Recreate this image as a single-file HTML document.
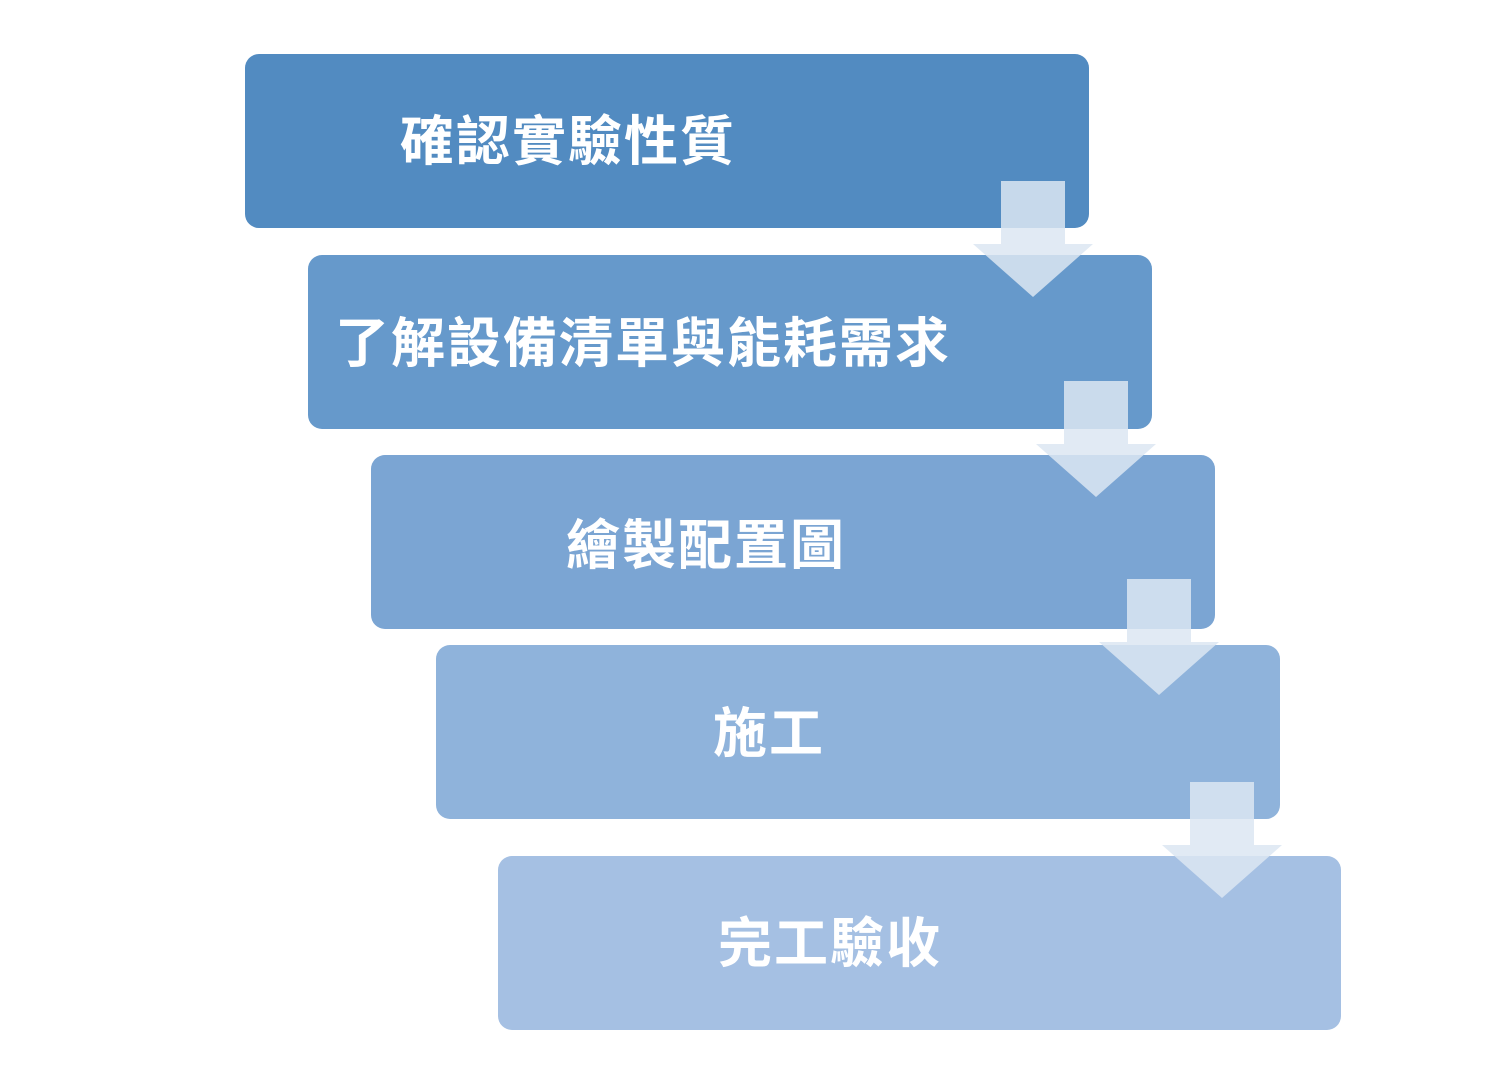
<!DOCTYPE html>
<html><head><meta charset="utf-8"><style>
body{margin:0;width:1488px;height:1080px;background:#fff;position:relative;overflow:hidden;font-family:"Liberation Sans","Noto Sans CJK TC",sans-serif}
.b{position:absolute;width:844px;height:174px;border-radius:14px}
.t{position:absolute;color:#fff;font-weight:bold;font-size:54px;line-height:60px;white-space:nowrap;letter-spacing:2px}
svg{position:absolute;left:0;top:0}
</style></head><body>
<div class="b" style="left:245px;top:54px;background:#528bc1"></div>
<div class="b" style="left:308px;top:255px;background:#6699cb"></div>
<div class="b" style="left:371px;top:455px;background:#7ba5d3"></div>
<div class="b" style="left:436px;top:645px;background:#8fb3db"></div>
<div class="b" style="left:498px;top:856px;width:843px;background:#a5c0e3"></div>
<div class="t" style="left:400px;top:112px">確認實驗性質</div>
<div class="t" style="left:335px;top:314px">了解設備清單與能耗需求</div>
<div class="t" style="left:566px;top:516px">繪製配置圖</div>
<div class="t" style="left:713px;top:704px">施工</div>
<div class="t" style="left:718px;top:914px">完工驗收</div>
<svg width="1488" height="1080">
<g fill="#dce6f2" fill-opacity="0.85">
<polygon points="1001,181 1065,181 1065,244 1093,244 1033,297 973,244 1001,244"/>
<polygon points="1064,381 1128,381 1128,444 1156,444 1096,497 1036,444 1064,444"/>
<polygon points="1127,579 1191,579 1191,642 1219,642 1159,695 1099,642 1127,642"/>
<polygon points="1190,782 1254,782 1254,845 1282,845 1222,898 1162,845 1190,845"/>
</g></svg>
</body></html>
